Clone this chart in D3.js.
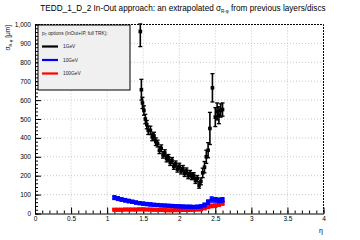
<!DOCTYPE html>
<meta charset="utf-8">
<script src="https://d3js.org/d3.v7.min.js"></script>
<style>
  body { margin: 0; background: #fff; }
  text { font-family: "Liberation Sans", Arial, sans-serif; }
</style>
<div id="my_dataviz"></div>
<script>

// 1 GeV series (black)
const eta1 = [1.46, 1.475, 1.49, 1.51, 1.53, 1.55, 1.57, 1.6, 1.625, 1.65, 1.675, 1.7, 1.725, 1.75, 1.775, 1.8,
  1.825, 1.85, 1.875, 1.9, 1.925, 1.95, 1.975, 2.0, 2.025, 2.05, 2.075, 2.1, 2.125, 2.15, 2.175, 2.2,
  2.225, 2.25, 2.275, 2.3, 2.325, 2.35, 2.375, 2.4, 2.425, 2.46, 2.5, 2.525, 2.55, 2.575, 2.6];
const val1 = [963, 655, 585, 545, 500, 470, 440, 440, 405, 410, 380, 370, 335, 345, 310, 320,
  290, 295, 270, 280, 250, 262, 235, 250, 225, 238, 212, 225, 200, 212, 195, 200,
  175, 185, 150, 170, 215, 245, 300, 335, 450, 665, 510, 540, 520, 545, 550];
const err1 = [80, 55, 30, 25, 25, 22, 22, 22, 20, 20, 20, 18, 18, 18, 17, 17,
  17, 17, 16, 16, 16, 16, 16, 16, 16, 16, 16, 16, 16, 16, 16, 16,
  16, 16, 16, 18, 25, 30, 35, 40, 85, 75, 50, 45, 45, 35, 35];

// 10 GeV series (blue)
const eta10 = [1.1, 1.15, 1.2, 1.25, 1.3, 1.35, 1.4, 1.45, 1.5, 1.55, 1.6, 1.65, 1.7, 1.75, 1.8, 1.85,
  1.9, 1.95, 2.0, 2.05, 2.1, 2.15, 2.2, 2.25, 2.3, 2.35, 2.4, 2.45, 2.5, 2.55, 2.6];
const val10 = [84, 79, 74, 70, 66, 62, 58, 55, 52, 50, 48, 46, 45, 43, 42, 41,
  40, 39, 38, 37, 36, 36, 35, 36, 38, 45, 60, 74, 72, 70, 72];
const err10 = [10, 10, 9, 9, 9, 8, 8, 8, 8, 8, 8, 7, 7, 7, 7, 7,
  7, 7, 7, 7, 7, 7, 7, 7, 8, 10, 12, 14, 12, 12, 12];

// 100 GeV series (red)
const eta100 = [1.1, 1.15, 1.2, 1.25, 1.3, 1.35, 1.4, 1.45, 1.5, 1.55, 1.6, 1.65, 1.7, 1.75, 1.8, 1.85,
  1.9, 1.95, 2.0, 2.05, 2.1, 2.15, 2.2, 2.25, 2.3, 2.35, 2.4, 2.45, 2.5, 2.55, 2.6];
const val100 = [20, 20, 20, 21, 21, 21, 21, 22, 22, 21, 21, 20, 20, 19, 18, 17,
  17, 18, 18, 19, 19, 19, 20, 21, 22, 28, 35, 40, 42, 48, 55];
const err100 = [5, 5, 5, 5, 5, 5, 5, 5, 5, 5, 5, 5, 5, 5, 5, 5,
  5, 5, 5, 5, 5, 5, 5, 5, 6, 7, 9, 9, 9, 10, 11];

const xTicks = [0, 0.5, 1, 1.5, 2, 2.5, 3, 3.5, 4];
const xTickLabels = ["0", "0.5", "1", "1.5", "2", "2.5", "3", "3.5", "4"];
const yTicks = [0, 100, 200, 300, 400, 500, 600, 700, 800, 900, 1000];
const legendNames = ["1GeV", "10GeV", "100GeV"];
const legendColors = ["#000000", "#0000ff", "#ff0000"];

const W = 360, H = 240;
const margin = {top: 24.5, right: 36.5, bottom: 26.5, left: 35};
const width = W - margin.left - margin.right,
      height = H - margin.top - margin.bottom;

const svgRoot = d3.select("#my_dataviz")
  .append("svg")
    .attr("width", W)
    .attr("height", H);

const svg = svgRoot.append("g")
    .attr("transform", `translate(${margin.left},${margin.top})`);

const x = d3.scaleLinear().domain([0, 4]).range([0, width]);
const y = d3.scaleLinear().domain([0, 1000]).range([height, 0]);

// grid
svg.append("g").selectAll("line")
  .data(xTicks.slice(1, -1))
  .join("line")
    .attr("x1", d => x(d)).attr("x2", d => x(d))
    .attr("y1", 0).attr("y2", height)
    .attr("stroke", "#c8c8c8").attr("stroke-dasharray", "1,2");
svg.append("g").selectAll("line")
  .data(yTicks.slice(1, -1))
  .join("line")
    .attr("x1", 0).attr("x2", width)
    .attr("y1", d => y(d)).attr("y2", d => y(d))
    .attr("stroke", "#c8c8c8").attr("stroke-dasharray", "1,2");

// top and right frame (dashed)
svg.append("path")
  .attr("d", `M0,0H${width}V${height}`)
  .attr("fill", "none").attr("stroke", "black").attr("stroke-dasharray", "2,1");

// X axis
const xMinor = d3.range(0, 4.0001, 0.1);
svg.append("g")
  .attr("transform", `translate(0,${height})`)
  .call(d3.axisBottom(x).tickValues(xMinor).tickSize(-3).tickFormat(""))
  .call(g => g.select(".domain").remove());
svg.append("g")
  .attr("transform", `translate(0,${height})`)
  .call(d3.axisBottom(x).tickValues(xTicks).tickSize(-6).tickSizeOuter(0).tickPadding(3)
    .tickFormat((d, i) => xTickLabels[i]))
  .call(g => g.selectAll("text").attr("font-size", 6.5).attr("fill", "#000"));

// Y axis
const yMinor = d3.range(0, 1000.001, 20);
svg.append("g")
  .call(d3.axisLeft(y).tickValues(yMinor).tickSize(-3).tickFormat(""))
  .call(g => g.select(".domain").remove());
svg.append("g")
  .call(d3.axisLeft(y).tickValues(yTicks).tickSize(-6).tickSizeOuter(0).tickPadding(4))
  .call(g => g.selectAll("text").attr("font-size", 6.5).attr("fill", "#000"));

// series
const series = [
  {eta: eta1, val: val1, err: err1, color: legendColors[0], size: 3.6},
  {eta: eta10, val: val10, err: err10, color: legendColors[1], size: 4.2},
  {eta: eta100, val: val100, err: err100, color: legendColors[2], size: 4.2}
];

const plot = svg.append("g");
series.slice().reverse().forEach(s => {
  const pts = s.eta.map((e, i) => ({e: e, v: s.val[i], er: s.err[i]}));
  const g = plot.append("g");
  g.selectAll("line.err")
    .data(pts)
    .join("line")
      .attr("x1", d => x(d.e)).attr("x2", d => x(d.e))
      .attr("y1", d => y(Math.min(d.v + d.er, 1003))).attr("y2", d => y(d.v - d.er))
      .attr("stroke", s.color).attr("stroke-width", 1.6);
  g.selectAll("line.capT")
    .data(pts)
    .join("line")
      .attr("x1", d => x(d.e) - 2).attr("x2", d => x(d.e) + 2)
      .attr("y1", d => y(Math.min(d.v + d.er, 1003))).attr("y2", d => y(Math.min(d.v + d.er, 1003)))
      .attr("stroke", s.color).attr("stroke-width", 1.3);
  g.selectAll("line.capB")
    .data(pts)
    .join("line")
      .attr("x1", d => x(d.e) - 2).attr("x2", d => x(d.e) + 2)
      .attr("y1", d => y(d.v - d.er)).attr("y2", d => y(d.v - d.er))
      .attr("stroke", s.color).attr("stroke-width", 1.3);
  g.selectAll("rect")
    .data(pts)
    .join("rect")
      .attr("x", d => x(d.e) - s.size / 2)
      .attr("y", d => y(d.v) - s.size / 2)
      .attr("width", s.size).attr("height", s.size)
      .attr("fill", s.color);
});

// Legend
const leg = svg.append("g").attr("transform", "translate(3,0.5)");
leg.append("rect")
  .attr("width", 92).attr("height", 65)
  .attr("fill", "#f0f0f0").attr("stroke", "black");
const hdr = leg.append("text").attr("x", 4).attr("y", 10).attr("font-size", 4.8).attr("fill", "#222");
hdr.append("tspan").text("p");
hdr.append("tspan").attr("font-size", 3.5).attr("dy", 1.2).text("T");
hdr.append("tspan").attr("dy", -1.2).text(" options (InOut+IP, full TRK):");
legendNames.forEach((n, i) => {
  const yy = 21.5 + i * 13.5;
  leg.append("line")
    .attr("x1", 4).attr("x2", 20).attr("y1", yy).attr("y2", yy)
    .attr("stroke", legendColors[i]).attr("stroke-width", 2.2);
  leg.append("text")
    .attr("x", 25).attr("y", yy + 1.8)
    .attr("font-size", 4.8).attr("fill", "#222")
    .text(n);
});

// Title
const title = svgRoot.append("text")
  .attr("x", 183).attr("y", 11)
  .attr("text-anchor", "middle")
  .attr("font-size", 8.2).attr("fill", "#000");
title.append("tspan").text("TEDD_1_D_2 In-Out approach: an extrapolated σ");
title.append("tspan").attr("font-size", 4.5).attr("dy", 2).text("R-φ");
title.append("tspan").attr("dy", -2).text("  from previous layers/discs");

// Y axis label
const ylab = svgRoot.append("text")
  .attr("transform", "translate(10,25) rotate(-90)")
  .attr("text-anchor", "end")
  .attr("font-size", 6.5).attr("fill", "#000");
ylab.append("tspan").text("σ");
ylab.append("tspan").attr("font-size", 4).attr("dy", 1.5).text("R-φ");
ylab.append("tspan").attr("dy", -1.5).text(" [μm]");

// X axis label
svgRoot.append("text")
  .attr("x", 323).attr("y", 233)
  .attr("text-anchor", "end")
  .attr("font-size", 7).attr("fill", "#000")
  .text("η");

</script>
